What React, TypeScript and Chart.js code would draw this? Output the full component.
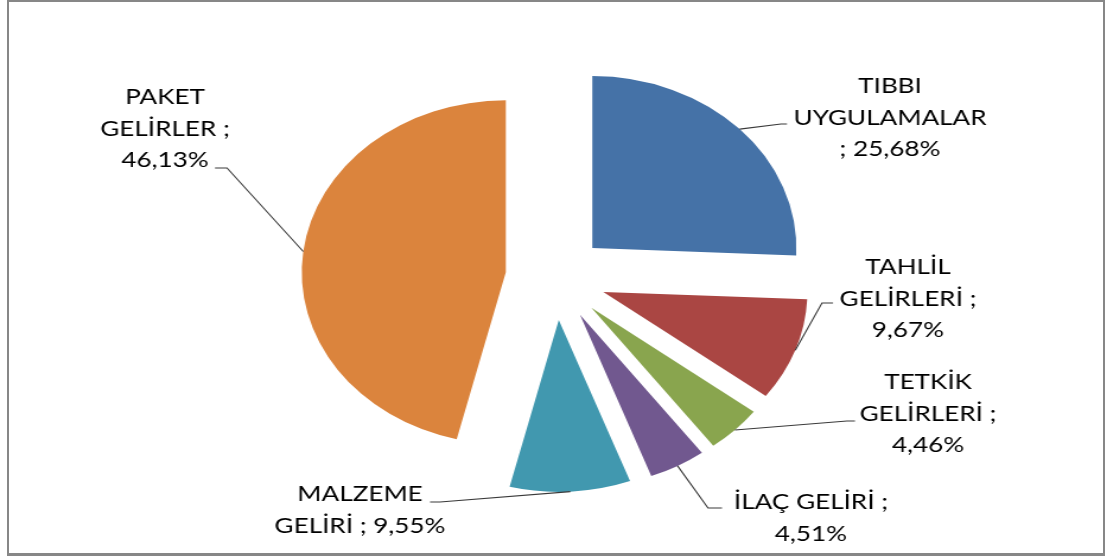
import React, { useEffect, useRef } from 'react';
import { Chart, registerables } from 'chart.js';

Chart.register(...registerables);

// Revenue shares by category (percent of total)
const categories = [
  'TIBBI UYGULAMALAR',
  'TAHLİL GELİRLERİ',
  'TETKİK GELİRLERİ',
  'İLAÇ GELİRİ',
  'MALZEME GELİRİ',
  'PAKET GELİRLER',
];
const shares = [25.68, 9.67, 4.46, 4.51, 9.55, 46.13];
const sliceColors = ['#4572A7', '#AA4643', '#89A54E', '#71588F', '#4198AF', '#DB843D'];

// Word indexes after which each data label wraps to a new line
const labelBreaks = [[0, 1], [0, 2], [0, 2], [2], [0], [0, 2]];

const PAGE_W = 1107;
const PAGE_H = 557;
// The drawing is rendered narrower and widened by CSS, giving an oval pie
const STRETCH = 1.1865;
const CANVAS_W = Math.round(PAGE_W / STRETCH);
const PIE_RADIUS = 172;
const EXPLODE = 42.5;

const FONT = '22px Lato, "Noto Sans", sans-serif';
const LINE_H = 31.5;

// Label placement in page pixels: text centre x, first line centre y,
// leader elbow and leader end next to the text
const labelLayout = [
  { cx: 890, y: 86, elbow: [781, 124], tail: [787, 124] },
  { cx: 908, y: 267, elbow: [822, 303], tail: [833, 303] },
  { cx: 928, y: 382, elbow: [847, 421], tail: [855, 421] },
  { cx: 811, y: 502, elbow: [708, 508], tail: [722, 508] },
  { cx: 360, y: 494, elbow: [440, 502], tail: [430, 502] },
  { cx: 165, y: 97, elbow: [227, 168], tail: [215, 168] },
];

const formatShare = (v: number) => v.toFixed(2).replace('.', ',') + '%';

const labelLines = categories.map((name, i) => {
  const words = `${name} ; ${formatShare(shares[i])}`.split(' ');
  const lines: string[] = [];
  let current: string[] = [];
  words.forEach((w, k) => {
    current.push(w);
    if (labelBreaks[i].includes(k)) {
      lines.push(current.join(' '));
      current = [];
    }
  });
  if (current.length) lines.push(current.join(' '));
  return lines;
});

// Pulls every slice outward along its middle angle
const explodePlugin = {
  id: 'explodedSlices',
  beforeDatasetDraw(chart: any, args: any) {
    const ctx = chart.ctx;
    args.meta.data.forEach((arc: any) => {
      const mid = (arc.startAngle + arc.endAngle) / 2;
      ctx.save();
      ctx.translate(Math.cos(mid) * EXPLODE, Math.sin(mid) * EXPLODE);
      arc.draw(ctx);
      ctx.restore();
    });
    return false;
  },
};

// Data labels with leader lines from each slice's outer edge
const labelPlugin = {
  id: 'sliceLabels',
  afterDraw(chart: any) {
    const ctx = chart.ctx;
    const arcs = chart.getDatasetMeta(0).data;
    ctx.save();
    arcs.forEach((arc: any, i: number) => {
      const L = labelLayout[i];
      const mid = (arc.startAngle + arc.endAngle) / 2;
      const reach = arc.outerRadius + EXPLODE;
      const sx = arc.x + Math.cos(mid) * reach;
      const sy = arc.y + Math.sin(mid) * reach;
      ctx.strokeStyle = '#3a3a3a';
      ctx.lineWidth = 1.1;
      ctx.beginPath();
      ctx.moveTo(sx, sy);
      ctx.lineTo(L.elbow[0] / STRETCH, L.elbow[1]);
      ctx.lineTo(L.tail[0] / STRETCH, L.tail[1]);
      ctx.stroke();

      ctx.fillStyle = '#000000';
      ctx.font = FONT;
      ctx.textAlign = 'center';
      ctx.textBaseline = 'middle';
      labelLines[i].forEach((line, k) => {
        ctx.fillText(line, L.cx / STRETCH, L.y + k * LINE_H);
      });
    });
    ctx.restore();
  },
};

export default function App() {
  const canvasRef = useRef<HTMLCanvasElement | null>(null);

  useEffect(() => {
    if (!canvasRef.current) return;
    const chart = new Chart(canvasRef.current, {
      type: 'pie',
      data: {
        labels: categories,
        datasets: [
          {
            data: shares,
            backgroundColor: sliceColors,
            borderWidth: 0,
            radius: PIE_RADIUS,
          } as any,
        ],
      },
      options: {
        animation: false,
        responsive: false,
        devicePixelRatio: 1,
        radius: PIE_RADIUS,
        layout: { padding: { left: 4, right: 0, top: 0, bottom: 2 } },
        plugins: {
          legend: { display: false },
          tooltip: { enabled: false },
        },
      } as any,
      plugins: [explodePlugin, labelPlugin],
    });
    return () => chart.destroy();
  }, []);

  return (
    <div style={{ position: 'absolute', left: 0, top: 0, width: PAGE_W, height: PAGE_H, background: '#ffffff', overflow: 'hidden' }}>
      <canvas
        ref={canvasRef}
        width={CANVAS_W}
        height={PAGE_H}
        style={{ position: 'absolute', left: 0, top: 0, width: PAGE_W + 'px', height: PAGE_H + 'px' }}
      />
      <div
        style={{
          position: 'absolute',
          left: 7,
          top: 0,
          width: 1098,
          height: 556,
          boxSizing: 'border-box',
          borderStyle: 'solid',
          borderColor: '#878787',
          borderWidth: '2px 2px 3px 2px',
          pointerEvents: 'none',
        }}
      />
    </div>
  );
}
